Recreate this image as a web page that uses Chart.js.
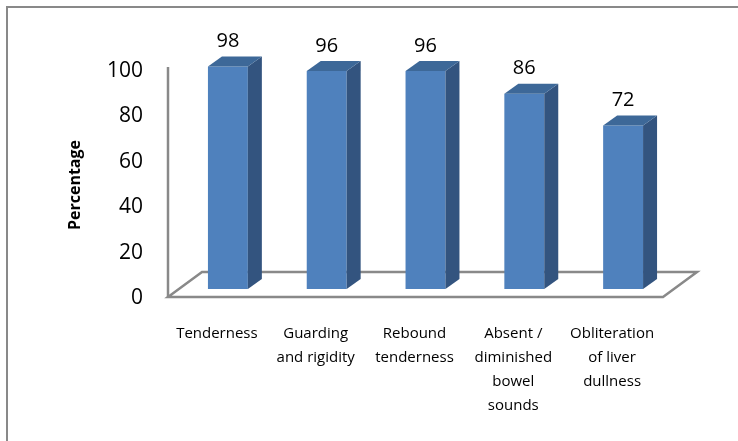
<!DOCTYPE html>
<html>
<head>
<meta charset="utf-8">
<script src="https://cdn.jsdelivr.net/npm/chart.js@4/dist/chart.umd.min.js"></script>
<style>
  body { margin: 0; background: #fff; }
  canvas { display: block; }
</style>
</head>
<body>
<canvas id="chart" width="738" height="441"></canvas>
<script>
// categories (multi-line labels) and values
const categories = [
  ['Tenderness'],
  ['Guarding', 'and rigidity'],
  ['Rebound', 'tenderness'],
  ['Absent /', 'diminished', 'bowel', 'sounds'],
  ['Obliteration', 'of liver', 'dullness']
];
const percentages = [98, 96, 96, 86, 72];
const yTitle = 'Percentage';

const DX = 14, DY = 10;          // depth of the 3D bars
const FRONT = '#4F81BD', TOP = '#3D6898', SIDE = '#33547F';
const GREY = '#898989';

// frame, floor and axis line behind the bars
const backdrop = {
  id: 'backdrop',
  beforeDatasetsDraw(chart) {
    const ctx = chart.ctx;
    const a = chart.chartArea;
    const y = chart.scales.y;
    const zero = y.getPixelForValue(0);
    const top = y.getPixelForValue(100);
    ctx.save();
    ctx.strokeStyle = GREY;
    // outer frame (left/top only visible)
    ctx.lineWidth = 2;
    ctx.strokeRect(7, 7, 800, 500);
    // floor
    ctx.lineWidth = 2.5;
    ctx.beginPath();
    ctx.moveTo(a.left - 10.5, zero + 8);
    ctx.lineTo(a.left + 23.5, zero - 17);
    ctx.lineTo(a.right + 24.5, zero - 17);
    ctx.lineTo(a.right - 9.5, zero + 8);
    ctx.closePath();
    ctx.stroke();
    // vertical axis
    ctx.beginPath();
    ctx.moveTo(a.left - 10.5, top + 5);
    ctx.lineTo(a.left - 10.5, zero + 8);
    ctx.stroke();
    ctx.restore();
  }
};

// side + top faces and value labels
const bars3d = {
  id: 'bars3d',
  afterDatasetsDraw(chart) {
    const ctx = chart.ctx;
    const meta = chart.getDatasetMeta(0);
    ctx.save();
    meta.data.forEach((bar, i) => {
      const l = bar.x - bar.width / 2, r = bar.x + bar.width / 2;
      const t = bar.y, b = bar.base;
      // side
      ctx.fillStyle = SIDE;
      ctx.beginPath();
      ctx.moveTo(r, t);
      ctx.lineTo(r + DX, t - DY);
      ctx.lineTo(r + DX, b - DY);
      ctx.lineTo(r, b);
      ctx.closePath();
      ctx.fill();
      // top
      ctx.fillStyle = TOP;
      ctx.beginPath();
      ctx.moveTo(l, t);
      ctx.lineTo(l + DX, t - DY);
      ctx.lineTo(r + DX, t - DY);
      ctx.lineTo(r, t);
      ctx.closePath();
      ctx.fill();
      // value
      ctx.fillStyle = '#000';
      ctx.font = '20px "Open Sans"';
      ctx.textAlign = 'center';
      ctx.textBaseline = 'middle';
      ctx.fillText(String(percentages[i]), bar.x, t - 25);
    });
    // y axis title
    ctx.translate(75, 185);
    ctx.rotate(-Math.PI / 2);
    ctx.font = 'bold 16px "Open Sans"';
    ctx.fillText(yTitle, 0, 0);
    ctx.restore();
  }
};

new Chart(document.getElementById('chart'), {
  type: 'bar',
  data: {
    labels: categories,
    datasets: [{
      data: percentages,
      backgroundColor: FRONT,
      borderWidth: 0,
      barPercentage: 0.404,
      categoryPercentage: 1
    }]
  },
  options: {
    responsive: false,
    animation: false,
    events: [],
    layout: { padding: { left: 0, right: 65.5, top: 62, bottom: 0 } },
    plugins: { legend: { display: false }, tooltip: { enabled: false } },
    scales: {
      x: {
        grid: { display: false },
        border: { display: false },
        ticks: {
          color: '#000',
          font: { family: 'Open Sans', size: 15, lineHeight: 1.6 },
          padding: 25,
          labelOffset: -11,
          maxRotation: 0,
          autoSkip: false
        },
        afterFit(scale) { scale.height = 152; }
      },
      y: {
        min: 0,
        max: 100,
        grid: { display: false },
        border: { display: false },
        ticks: {
          stepSize: 20,
          color: '#000',
          font: { family: 'Open Sans', size: 21 },
          padding: 27.5,
          labelOffset: 9
        },
        afterFit(scale) { scale.width = 178.5; }
      }
    }
  },
  plugins: [backdrop, bars3d]
});
</script>
</body>
</html>
